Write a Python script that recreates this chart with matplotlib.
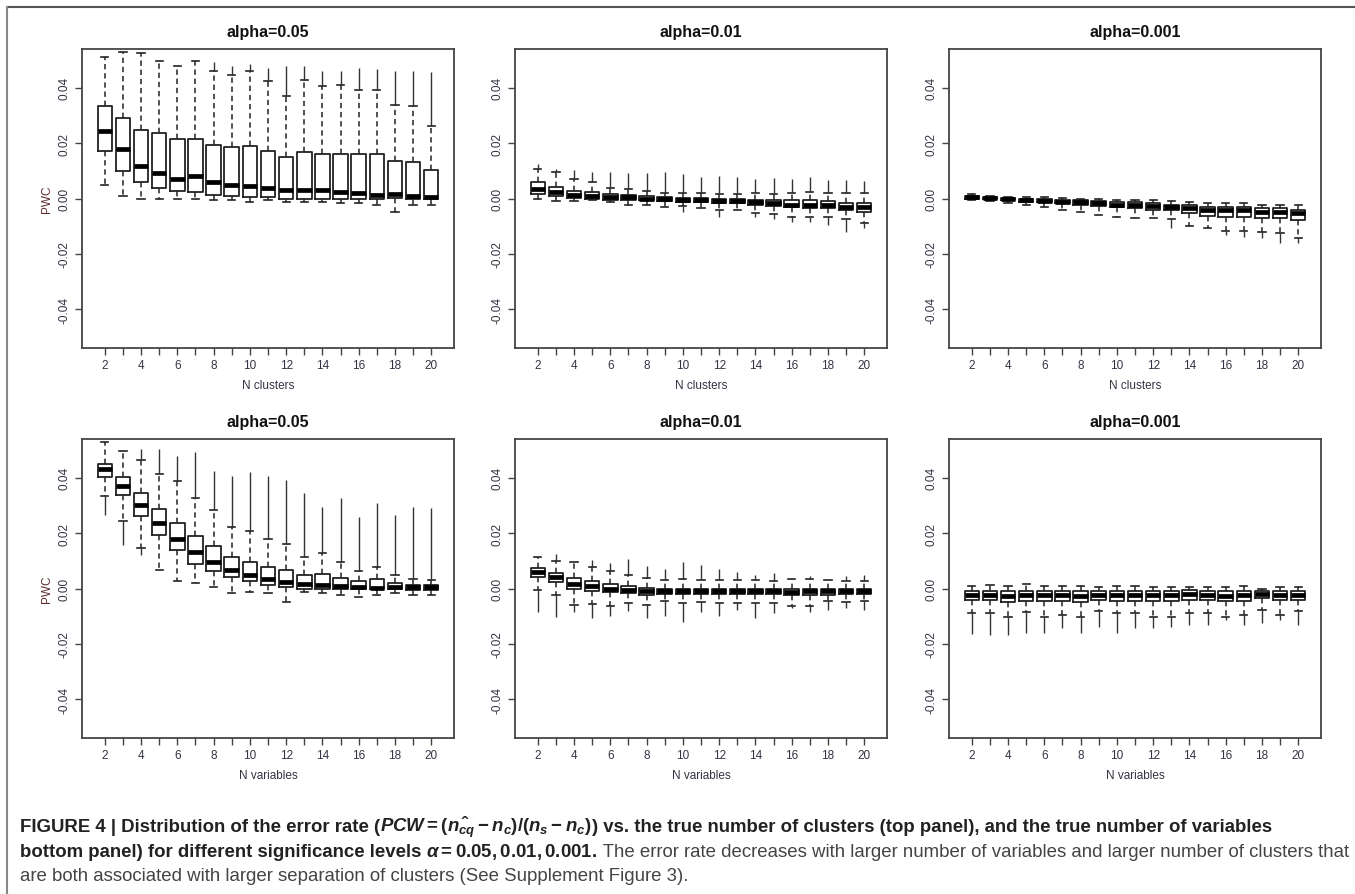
import matplotlib
matplotlib.use('Agg')
import matplotlib.pyplot as plt
import numpy as np

nan = np.nan

groups = list(range(2, 21))
alphas = ['alpha=0.05', 'alpha=0.01', 'alpha=0.001']

# top row: N clusters
tl_hi = [0.0510, 0.0529, 0.0526, 0.0498, 0.0477, 0.0495, 0.0462, 0.0447, 0.0462, 0.0425,
         0.0369, 0.0429, 0.0406, 0.0411, 0.0392, 0.0392, 0.0336, 0.0335, 0.0261]
tl_q3 = [0.0334, 0.0291, 0.0247, 0.0237, 0.0215, 0.0215, 0.0192, 0.0185, 0.0189, 0.0172,
         0.0151, 0.0169, 0.0162, 0.0162, 0.0159, 0.0159, 0.0135, 0.0131, 0.0102]
tl_med = [0.0245, 0.0179, 0.0118, 0.0091, 0.0072, 0.0080, 0.0058, 0.0050, 0.0046, 0.0038,
          0.0030, 0.0030, 0.0030, 0.0024, 0.0020, 0.0012, 0.0016, 0.0010, 0.0007]
tl_q1 = [0.0173, 0.0098, 0.0058, 0.0038, 0.0026, 0.0022, 0.0012, 0.0008, 0.0005, 0.0005,
         0.0, 0.0, 0.0, 0.0, 0.0, 0.0, 0.0002, -0.0002, -0.0002]
tl_lo = [0.0050, 0.0008, 0.0, 0.0, 0.0, 0.0, -0.0004, -0.0007, -0.0012, -0.0006,
         -0.0012, -0.0012, -0.0012, -0.0016, -0.0016, -0.0024, -0.0048, -0.0022, -0.0024]
tl_fhi = [nan, nan, nan, nan, nan, nan, 0.0492, 0.0480, 0.0486, 0.0471,
          0.0480, 0.0480, 0.0462, 0.0462, 0.0471, 0.0468, 0.0462, 0.0462, 0.0456]
tl_flo = [nan] * 19

tm_hi = [0.0106, 0.0096, 0.0072, 0.0058, 0.0038, 0.0034, 0.0028, 0.0020, 0.0020, 0.0020,
         0.0017, 0.0017, 0.0020, 0.0017, 0.0020, 0.0024, 0.0020, 0.0020, 0.0020]
tm_q3 = [0.0060, 0.0042, 0.0028, 0.0024, 0.0016, 0.0012, 0.0008, 0.0006, 0.0002, 0.0002,
         0.0, 0.0, -0.0004, -0.0006, -0.0006, -0.0006, -0.0010, -0.0018, -0.0018]
tm_med = [0.0036, 0.0022, 0.0012, 0.0010, 0.0006, 0.0004, 0.0, -0.0001, -0.0004, -0.0006,
          -0.0010, -0.0010, -0.0014, -0.0018, -0.0022, -0.0022, -0.0024, -0.0030, -0.0032]
tm_q1 = [0.0018, 0.0008, 0.0002, 0.0, -0.0004, -0.0005, -0.0007, -0.0008, -0.0012, -0.0014,
         -0.0018, -0.0018, -0.0024, -0.0028, -0.0032, -0.0034, -0.0036, -0.0042, -0.0048]
tm_lo = [0.0, -0.0010, -0.0010, -0.0006, -0.0012, -0.0022, -0.0024, -0.0030, -0.0026, -0.0036,
         -0.0040, -0.0042, -0.0054, -0.0056, -0.0066, -0.0066, -0.0066, -0.0074, -0.0088]
tm_fhi = [0.0126, 0.0106, 0.0102, 0.0096, 0.0096, 0.0092, 0.0092, 0.0096, 0.0090, 0.0078,
          0.0082, 0.0078, 0.0072, 0.0074, 0.0072, 0.0076, 0.0066, 0.0066, 0.0062]
tm_flo = [nan, nan, nan, nan, nan, nan, nan, nan, -0.0050, nan,
          -0.0066, nan, -0.0066, -0.0074, -0.0086, -0.0084, -0.0096, -0.0120, -0.0108]

tr_hi = [0.0018, 0.0008, 0.0006, 0.0006, 0.0004, 0.0002, 0.0, 0.0, -0.0004, -0.0006,
         -0.0006, -0.0010, -0.0014, -0.0016, -0.0016, -0.0018, -0.0022, -0.0022, -0.0024]
tr_q3 = [0.0008, 0.0006, 0.0002, 0.0, -0.0002, -0.0004, -0.0006, -0.0010, -0.0012, -0.0014,
         -0.0016, -0.0022, -0.0024, -0.0030, -0.0032, -0.0032, -0.0036, -0.0036, -0.0040]
tr_med = [0.0004, 0.0001, -0.0002, -0.0006, -0.0008, -0.0011, -0.0014, -0.0018, -0.0022, -0.0024,
          -0.0028, -0.0032, -0.0036, -0.0040, -0.0042, -0.0042, -0.0048, -0.0048, -0.0054]
tr_q1 = [0.0, -0.0002, -0.0007, -0.0012, -0.0014, -0.0018, -0.0022, -0.0026, -0.0032, -0.0036,
         -0.0040, -0.0042, -0.0054, -0.0062, -0.0066, -0.0066, -0.0070, -0.0072, -0.0078]
tr_lo = [-0.0004, -0.0008, -0.0018, -0.0022, -0.0030, -0.0040, -0.0048, -0.0058, -0.0066, -0.0070,
         -0.0072, -0.0074, -0.0098, -0.0106, -0.0118, -0.0118, -0.0120, -0.0126, -0.0144]
tr_fhi = [nan] * 19
tr_flo = [nan, nan, nan, nan, nan, nan, nan, nan, nan, nan,
          nan, -0.0108, nan, nan, -0.0132, -0.0138, -0.0144, -0.0162, -0.0162]

# bottom row: N variables
bl_hi = [0.0529, 0.0496, 0.0465, 0.0413, 0.0388, 0.0327, 0.0282, 0.0222, 0.0209, 0.0180,
         0.0160, 0.0113, 0.0127, 0.0096, 0.0064, 0.0079, 0.0050, 0.0036, 0.0030]
bl_q3 = [0.0450, 0.0402, 0.0345, 0.0286, 0.0237, 0.0189, 0.0154, 0.0113, 0.0097, 0.0078,
         0.0067, 0.0049, 0.0053, 0.0038, 0.0026, 0.0034, 0.0019, 0.0011, 0.0011]
bl_med = [0.0432, 0.0370, 0.0300, 0.0237, 0.0180, 0.0132, 0.0095, 0.0068, 0.0050, 0.0035,
          0.0024, 0.0016, 0.0012, 0.0008, 0.0006, 0.0002, 0.0005, 0.0004, 0.0004]
bl_q1 = [0.0402, 0.0339, 0.0262, 0.0195, 0.0138, 0.0090, 0.0064, 0.0041, 0.0026, 0.0012,
         0.0004, 0.0, 0.0, 0.0, 0.0, -0.0001, -0.0001, -0.0004, -0.0004]
bl_lo = [0.0334, 0.0244, 0.0147, 0.0067, 0.0026, 0.0020, 0.0004, -0.0018, -0.0013, -0.0018,
         -0.0048, -0.0012, -0.0018, -0.0022, -0.0030, -0.0022, -0.0016, -0.0024, -0.0022]
bl_fhi = [nan, nan, 0.0505, 0.0505, 0.0480, 0.0492, 0.0426, 0.0408, 0.0420, 0.0408,
          0.0393, 0.0346, 0.0294, 0.0327, 0.0258, 0.0309, 0.0267, 0.0294, 0.0292]
bl_flo = [0.0267, 0.0156, 0.0120, nan, nan, nan, nan, nan, nan, nan,
          nan, nan, nan, nan, nan, nan, nan, nan, nan]

bm_hi = [0.0112, 0.0100, 0.0096, 0.0076, 0.0062, 0.0048, 0.0038, 0.0030, 0.0034, 0.0030,
         0.0030, 0.0030, 0.0030, 0.0026, 0.0036, 0.0034, 0.0030, 0.0028, 0.0028]
bm_q3 = [0.0074, 0.0056, 0.0038, 0.0026, 0.0016, 0.0008, 0.0002, 0.0, 0.0, 0.0,
         0.0, 0.0, 0.0, 0.0, 0.0, 0.0, 0.0, 0.0, 0.0]
bm_med = [0.0058, 0.0042, 0.0018, 0.0010, 0.0, -0.0004, -0.0010, -0.0010, -0.0008, -0.0010,
          -0.0010, -0.0010, -0.0008, -0.0010, -0.0012, -0.0010, -0.0010, -0.0010, -0.0010]
bm_q1 = [0.0040, 0.0024, 0.0, -0.0008, -0.0014, -0.0018, -0.0022, -0.0020, -0.0020, -0.0020,
         -0.0020, -0.0020, -0.0020, -0.0020, -0.0024, -0.0022, -0.0022, -0.0020, -0.0020]
bm_lo = [-0.0006, -0.0024, -0.0058, -0.0056, -0.0064, -0.0054, -0.0060, -0.0046, -0.0054, -0.0050,
         -0.0054, -0.0054, -0.0054, -0.0054, -0.0062, -0.0062, -0.0044, -0.0050, -0.0046]
bm_fhi = [nan, 0.0126, nan, 0.0102, 0.0092, 0.0106, 0.0082, 0.0072, 0.0096, 0.0084,
          0.0072, 0.0060, 0.0048, 0.0056, nan, 0.0044, nan, 0.0044, 0.0048]
bm_flo = [-0.0086, -0.0102, -0.0084, -0.0108, -0.0098, -0.0082, -0.0108, -0.0098, -0.0120, -0.0084,
          -0.0098, -0.0078, -0.0106, -0.0090, -0.0072, -0.0084, -0.0076, -0.0072, -0.0078]

br_hi = [0.0008, 0.0012, 0.0008, 0.0018, 0.0008, 0.0008, 0.0008, 0.0005, 0.0008, 0.0008,
         0.0005, 0.0005, 0.0005, 0.0005, 0.0005, 0.0008, 0.0, 0.0005, 0.0005]
br_q3 = [-0.0008, -0.0008, -0.0010, -0.0010, -0.0010, -0.0010, -0.0010, -0.0010, -0.0010, -0.0010,
         -0.0010, -0.0010, -0.0006, -0.0008, -0.0010, -0.0008, -0.0008, -0.0008, -0.0008]
br_med = [-0.0022, -0.0022, -0.0028, -0.0024, -0.0024, -0.0024, -0.0026, -0.0022, -0.0024, -0.0024,
          -0.0024, -0.0024, -0.0020, -0.0022, -0.0026, -0.0024, -0.0020, -0.0024, -0.0022]
br_q1 = [-0.0042, -0.0042, -0.0050, -0.0044, -0.0046, -0.0046, -0.0050, -0.0042, -0.0046, -0.0046,
         -0.0046, -0.0046, -0.0040, -0.0042, -0.0044, -0.0044, -0.0036, -0.0042, -0.0042]
br_lo = [-0.0090, -0.0090, -0.0102, -0.0084, -0.0102, -0.0094, -0.0102, -0.0082, -0.0090, -0.0090,
         -0.0102, -0.0102, -0.0090, -0.0090, -0.0102, -0.0094, -0.0078, -0.0094, -0.0082]
br_fhi = [nan] * 19
br_flo = [-0.0166, -0.0168, -0.0168, -0.0160, -0.0160, -0.0142, -0.0160, -0.0138, -0.0160, -0.0144,
          -0.0144, -0.0138, -0.0132, -0.0132, -0.0114, -0.0132, -0.0126, -0.0114, -0.0132]

panels = [
    [(tl_med, tl_q1, tl_q3, tl_lo, tl_hi, tl_flo, tl_fhi),
     (tm_med, tm_q1, tm_q3, tm_lo, tm_hi, tm_flo, tm_fhi),
     (tr_med, tr_q1, tr_q3, tr_lo, tr_hi, tr_flo, tr_fhi)],
    [(bl_med, bl_q1, bl_q3, bl_lo, bl_hi, bl_flo, bl_fhi),
     (bm_med, bm_q1, bm_q3, bm_lo, bm_hi, bm_flo, bm_fhi),
     (br_med, br_q1, br_q3, br_lo, br_hi, br_flo, br_fhi)],
]
xlabels = ['N clusters', 'N variables']

plt.rcParams['font.family'] = ['Liberation Sans', 'DejaVu Sans']
plt.rcParams['mathtext.fontset'] = 'custom'
plt.rcParams['mathtext.it'] = 'Liberation Sans:italic:bold'
plt.rcParams['mathtext.rm'] = 'Liberation Sans:bold'
plt.rcParams['mathtext.bf'] = 'Liberation Sans:bold'

fig = plt.figure(figsize=(13.55, 8.95), dpi=100)
W, H = 1355, 895
lefts = [82, 515, 949]
tops = [50, 440]
aw, ah = 372, 299
pos = np.arange(1, 20)
edge = '#222222'
txt = '#333344'

for r in range(2):
    for c in range(3):
        ax = fig.add_axes([lefts[c] / W, 1 - (tops[r] + ah) / H, aw / W, ah / H])
        med, q1, q3, lo, hi, flo, fhi = panels[r][c]
        stats = [dict(med=med[i], q1=q1[i], q3=q3[i], whislo=lo[i], whishi=hi[i], fliers=[])
                 for i in range(19)]
        ax.bxp(stats, positions=pos, widths=0.8, capwidths=0.4, showfliers=False,
               manage_ticks=False,
               boxprops=dict(color=edge, linewidth=1.3),
               whiskerprops=dict(color=edge, linewidth=1.1, linestyle=(0, (3.5, 2.5))),
               capprops=dict(color=edge, linewidth=1.2),
               medianprops=dict(color='black', linewidth=3.4, solid_capstyle='butt'))
        for i in range(19):
            if not np.isnan(fhi[i]):
                ax.vlines(pos[i], hi[i], fhi[i], color='#333333', linewidth=1.0)
            if not np.isnan(flo[i]):
                ax.vlines(pos[i], flo[i], lo[i], color='#333333', linewidth=1.0)
        ax.set_xlim(-0.26, 20.26)
        ax.set_ylim(-0.054, 0.054)
        ax.set_xticks(pos)
        ax.set_xticklabels([str(g) if g % 2 == 0 else '' for g in groups])
        ax.set_yticks([-0.04, -0.02, 0.0, 0.02, 0.04])
        ax.set_yticklabels(['-0.04', '-0.02', '0.00', '0.02', '0.04'], rotation=90, va='center')
        ax.tick_params(axis='both', direction='out', length=5, width=1, color='#444444',
                       labelsize=8.5, labelcolor=txt, pad=3)
        for s in ax.spines.values():
            s.set_color('#444444')
            s.set_linewidth(1.3)
        ax.set_title(alphas[c], fontsize=11.5, fontweight='bold', pad=9, color='#111111')
        ax.set_xlabel(xlabels[r], fontsize=8.5, color=txt, labelpad=6)
        if c == 0:
            ax.set_ylabel('PWC', fontsize=8.5, color='#5a2a2a', labelpad=4)

# figure frame (top and left edges)
fig.add_artist(plt.Line2D([7 / W, 1], [1 - 8 / H, 1 - 8 / H], color='#555555', linewidth=1.5))
fig.add_artist(plt.Line2D([7 / W, 7 / W], [0, 1 - 8 / H], color='#888888', linewidth=1.5))

# caption with mixed weights
renderer = fig.canvas.get_renderer()
cap_size = 13.4
lines = [
    [('FIGURE 4 | Distribution of the error rate (', 'bold', '#222222'),
     (r'$PCW = (\hat{n_{cq}} - n_c)/(n_s - n_c)$', 'bold', '#222222'),
     (') vs. the true number of clusters (top panel), and the true number of variables', 'bold', '#222222')],
    [('bottom panel) for different significance levels ', 'bold', '#222222'),
     (r'$\alpha = \mathbf{0.05, 0.01, 0.001.}$', 'bold', '#222222'),
     (' The error rate decreases with larger number of variables and larger number of clusters that',
      'normal', '#444444')],
    [('are both associated with larger separation of clusters (See Supplement Figure 3).', 'normal', '#444444')],
]
baselines = [832, 857, 881]
for line, yb in zip(lines, baselines):
    x = 20
    for s, wgt, col in line:
        t = fig.text(x / W, 1 - yb / H, s, fontsize=cap_size, fontweight=wgt, color=col,
                     ha='left', va='baseline')
        bb = t.get_window_extent(renderer=renderer)
        x += bb.width

fig.savefig('out.png', dpi=100)
